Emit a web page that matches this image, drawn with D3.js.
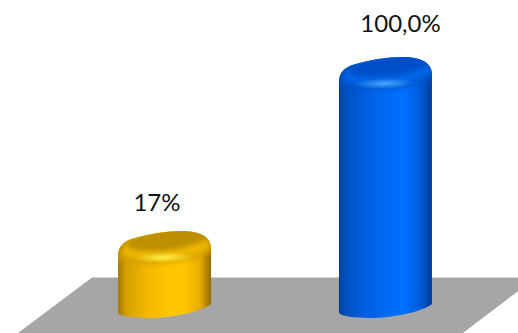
<!DOCTYPE html>
<html><head><meta charset="utf-8">
<script src="https://cdn.jsdelivr.net/npm/d3@7"></script>
<style>html,body{margin:0;padding:0;background:#fff;overflow:hidden}svg{display:block}</style>
</head><body><svg id="c" width="518" height="333"></svg>
<script>
const categories = ["A", "B"];
const values = [17, 100];
const valueLabels = ["17%", "100,0%"];
const palettes = [
  {stops:["#a07800","#d6a000","#f2b600","#ffc600","#ffc800","#e8ae00","#8f6c00"], cap:"#bd9000", glow:"#fff04a", rim:"#f0b800", shade:"#d49e00"},
  {stops:["#00409e","#0052c4","#0060e4","#006cf6","#0070ff","#005cd8","#003a96"], cap:"#004fc8", glow:"#4aa8ff", rim:"#0066ea", shade:"#0052c8"}
];
const offsets = [0,0.09,0.3,0.55,0.7,0.88,1];

const svg=d3.select("#c");
const defs=svg.append("defs");
const x=d3.scaleBand().domain(categories).range([54,496]).paddingInner(0.579).paddingOuter(0.29);
const y=d3.scaleLinear().domain([0,100]).range([266.6,57]);
const baseDrop=51.4; // the 3D foot of each cylinder sits below the zero plane

svg.append("path").attr("d",d3.line()([[92,277.5],[536,277.5],[463,333],[18,333]])+"Z").attr("fill","#a6a6a6");

[["b3",2.6],["b1",2.5],["b2",1.5]].forEach(([id,sd])=>
  defs.append("filter").attr("id",id).attr("x","-30%").attr("y","-60%").attr("width","160%").attr("height","220%")
    .append("feGaussianBlur").attr("stdDeviation",sd));

function outline(l,t,w,b){
  const r=l+w, k=w/93;
  return `M${l},${t+25}`+
    `C${l},${t+15} ${l+6*k},${t+10} ${l+15*k},${t+7.5}`+
    `C${l+30*k},${t+3} ${l+48*k},${t} ${l+64*k},${t}`+
    `C${l+80*k},${t} ${r},${t+5} ${r},${t+17}`+
    `L${r},${b-14}`+
    `C${l+85*k},${b-8} ${l+65*k},${b-1.5} ${l+35*k},${b}`+
    `C${l+20*k},${b} ${l},${b-1} ${l},${b-6}Z`;
}

const g=svg.selectAll("g.bar").data(categories).join("g").attr("class","bar");
g.each(function(c,i){
  const s=d3.select(this), p=palettes[i];
  const l=x(c), w=x.bandwidth(), t=y(values[i]), b=y(0)+baseDrop, cx=l+w/2;
  const gid="grad"+i, cid="clip"+i, rid="glow"+i;
  const lg=defs.append("linearGradient").attr("id",gid).attr("x1",0).attr("x2",1).attr("y1",0).attr("y2",0);
  p.stops.forEach((col,j)=>lg.append("stop").attr("offset",offsets[j]).attr("stop-color",col));
  const rg=defs.append("radialGradient").attr("id",rid);
  rg.append("stop").attr("offset",0).attr("stop-color",p.glow).attr("stop-opacity",1);
  rg.append("stop").attr("offset",1).attr("stop-color",p.glow).attr("stop-opacity",0);
  defs.append("clipPath").attr("id",cid).append("path").attr("d",outline(l,t,w,b));

  s.append("path").attr("d",outline(l,t,w,b)).attr("fill",`url(#${gid})`);
  const clip=s.append("g").attr("clip-path",`url(#${cid})`);
  clip.append("ellipse").attr("cx",cx+1).attr("cy",t+21).attr("rx",w/2+4).attr("ry",11.5)
    .attr("transform",`rotate(-5 ${cx} ${t+21})`).attr("fill",p.shade).attr("filter","url(#b1)").attr("opacity",0.8);
  clip.append("ellipse").attr("cx",cx+2).attr("cy",t+16).attr("rx",w/2-2).attr("ry",12)
    .attr("transform",`rotate(-5 ${cx} ${t+16})`).attr("fill",p.rim).attr("filter","url(#b1)");
  clip.append("ellipse").attr("cx",cx-1).attr("cy",t+26.5).attr("rx",30).attr("ry",5.5)
    .attr("transform",`rotate(-2 ${cx} ${t+26})`).attr("fill",`url(#${rid})`);
  clip.append("ellipse").attr("cx",cx+4).attr("cy",t+8).attr("rx",w/2-4).attr("ry",11)
    .attr("transform",`rotate(-7 ${cx+4} ${t+8})`).attr("fill",p.cap).attr("filter","url(#b3)");
  s.append("text").attr("x",[157,400.5][i]).attr("y",t-[20,25][i])
   .attr("text-anchor","middle").attr("font-family","Lato, Carlito, sans-serif").attr("font-size",24).attr("fill","#111")
   .text(valueLabels[i]);
});
</script></body></html>
